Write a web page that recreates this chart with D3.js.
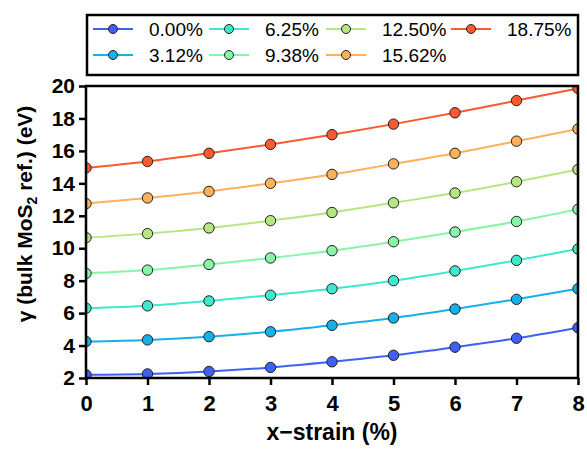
<!DOCTYPE html>
<html>
<head>
<meta charset="utf-8">
<script src="https://cdn.jsdelivr.net/npm/d3@7"></script>
<style>
    body { margin: 0; background: #fff; }
    svg { font-family: "Liberation Sans", Arial, sans-serif; }
</style>
</head>
<body>
<div id="plot"></div>
<script>
// x-strain values (%)
const strains = [0, 1, 2, 3, 4, 5, 6, 7, 8];

// one series per concentration
const seriesLabels = ["0.00%", "3.12%", "6.25%", "9.38%", "12.50%", "15.62%", "18.75%"];
const seriesColors = ["#3f5ff5", "#16b0e8", "#3ee8cc", "#86f5a8", "#b5e682", "#ffb05a", "#fa5a2d"];

const gamma000 = [2.2, 2.25, 2.4, 2.65, 3.0, 3.4, 3.9, 4.45, 5.1];
const gamma312 = [4.25, 4.35, 4.55, 4.85, 5.25, 5.7, 6.25, 6.85, 7.5];
const gamma625 = [6.3, 6.45, 6.75, 7.1, 7.5, 8.0, 8.6, 9.25, 9.95];
const gamma938 = [8.45, 8.65, 9.0, 9.4, 9.85, 10.4, 11.0, 11.65, 12.4];
const gamma1250 = [10.65, 10.9, 11.25, 11.7, 12.2, 12.8, 13.4, 14.1, 14.85];
const gamma1562 = [12.75, 13.1, 13.5, 14.0, 14.55, 15.2, 15.85, 16.6, 17.35];
const gamma1875 = [14.95, 15.35, 15.85, 16.4, 17.0, 17.65, 18.35, 19.1, 19.85];

const xTicks = [0, 1, 2, 3, 4, 5, 6, 7, 8];
const yTicks = [2, 4, 6, 8, 10, 12, 14, 16, 18, 20];

const allSeries = [gamma000, gamma312, gamma625, gamma938, gamma1250, gamma1562, gamma1875];

const width = 587;
const height = 449;
const margin = ({ top: 86, right: 9, bottom: 71, left: 86 });

let svg = d3.select("#plot")
    .append("svg")
    .attr("width", width)
    .attr("height", height);

const x = d3.scaleLinear()
    .domain([0, 8])
    .range([margin.left, width - margin.right]);

const y = d3.scaleLinear()
    .domain([2, 20])
    .range([height - margin.bottom, margin.top]);

const line = d3.line()
    .x(d => x(d[0]))
    .y(d => y(d[1]))
    .curve(d3.curveMonotoneX);

// clip so markers on the frame are cut like the original
svg.append("clipPath")
    .attr("id", "clip")
    .append("rect")
    .attr("x", margin.left)
    .attr("y", margin.top)
    .attr("width", width - margin.left - margin.right)
    .attr("height", height - margin.top - margin.bottom);

let plotG = svg.append("g").attr("clip-path", "url(#clip)");

allSeries.forEach((vals, i) => {
    const pts = strains.map((s, j) => [s, vals[j]]);
    plotG.append("path")
        .datum(pts)
        .attr("fill", "none")
        .attr("stroke", seriesColors[i])
        .attr("stroke-width", 2)
        .attr("d", line);
    plotG.append("g")
        .selectAll("circle")
        .data(pts)
        .join("circle")
        .attr("cx", d => x(d[0]))
        .attr("cy", d => y(d[1]))
        .attr("r", 5.2)
        .attr("fill", seriesColors[i])
        .attr("stroke", "#222")
        .attr("stroke-width", 1);
});

// frame
svg.append("rect")
    .attr("x", margin.left)
    .attr("y", margin.top)
    .attr("width", width - margin.left - margin.right)
    .attr("height", height - margin.top - margin.bottom)
    .attr("fill", "none")
    .attr("stroke", "#000")
    .attr("stroke-width", 2.5);

const xAxis = g => g
    .attr("transform", `translate(0,${height - margin.bottom})`)
    .call(d3.axisBottom(x).tickValues(xTicks).tickSize(7).tickPadding(10).tickSizeOuter(0))
    .call(g => g.select(".domain").remove())
    .call(g => g.selectAll(".tick line").attr("stroke-width", 2.5))
    .call(g => g.selectAll(".tick text")
        .attr("font-size", "22px")
        .attr("font-weight", "bold")
        .attr("fill", "#000"));

const yAxis = g => g
    .attr("transform", `translate(${margin.left},0)`)
    .call(d3.axisLeft(y).tickValues(yTicks).tickSize(7).tickPadding(4).tickSizeOuter(0))
    .call(g => g.select(".domain").remove())
    .call(g => g.selectAll(".tick line").attr("stroke-width", 2.5))
    .call(g => g.selectAll(".tick text")
        .attr("font-size", "21px")
        .attr("font-weight", "bold")
        .attr("fill", "#000"));

svg.append("g").call(xAxis);
svg.append("g").call(yAxis);

svg.append("text")
    .attr("x", (margin.left + width - margin.right) / 2)
    .attr("y", 440)
    .attr("text-anchor", "middle")
    .attr("font-size", "23px")
    .attr("font-weight", "bold")
    .text("x\u2212strain (%)");

const yLabel = svg.append("text")
    .attr("transform", `translate(32,214) rotate(-90)`)
    .attr("text-anchor", "middle")
    .attr("font-size", "21px")
    .attr("font-weight", "bold");
yLabel.append("tspan").text("\u03b3 (bulk MoS");
yLabel.append("tspan").attr("font-size", "14px").attr("dy", 5).text("2");
yLabel.append("tspan").attr("dy", -5).text(" ref.) (eV)");

// legend
const legendBox = { x: 87, y: 15, w: 491, h: 60 };
let legend = svg.append("g");
legend.append("rect")
    .attr("x", legendBox.x)
    .attr("y", legendBox.y)
    .attr("width", legendBox.w)
    .attr("height", legendBox.h)
    .attr("fill", "#fff")
    .attr("stroke", "#000")
    .attr("stroke-width", 2.5);

const colX = [93, 209, 326, 451];
const rowY = [29, 55];
seriesLabels.forEach((label, i) => {
    const col = Math.floor(i / 2);
    const row = i % 2;
    const lx = colX[col];
    const ly = rowY[row];
    let item = legend.append("g");
    item.append("line")
        .attr("x1", lx).attr("x2", lx + 40)
        .attr("y1", ly).attr("y2", ly)
        .attr("stroke", seriesColors[i])
        .attr("stroke-width", 2);
    item.append("circle")
        .attr("cx", lx + 20).attr("cy", ly)
        .attr("r", 4.5)
        .attr("fill", seriesColors[i])
        .attr("stroke", "#222")
        .attr("stroke-width", 1);
    item.append("text")
        .attr("x", lx + 56)
        .attr("y", ly + 7)
        .attr("font-size", "19px")
        .text(label);
});
</script>
</body>
</html>
